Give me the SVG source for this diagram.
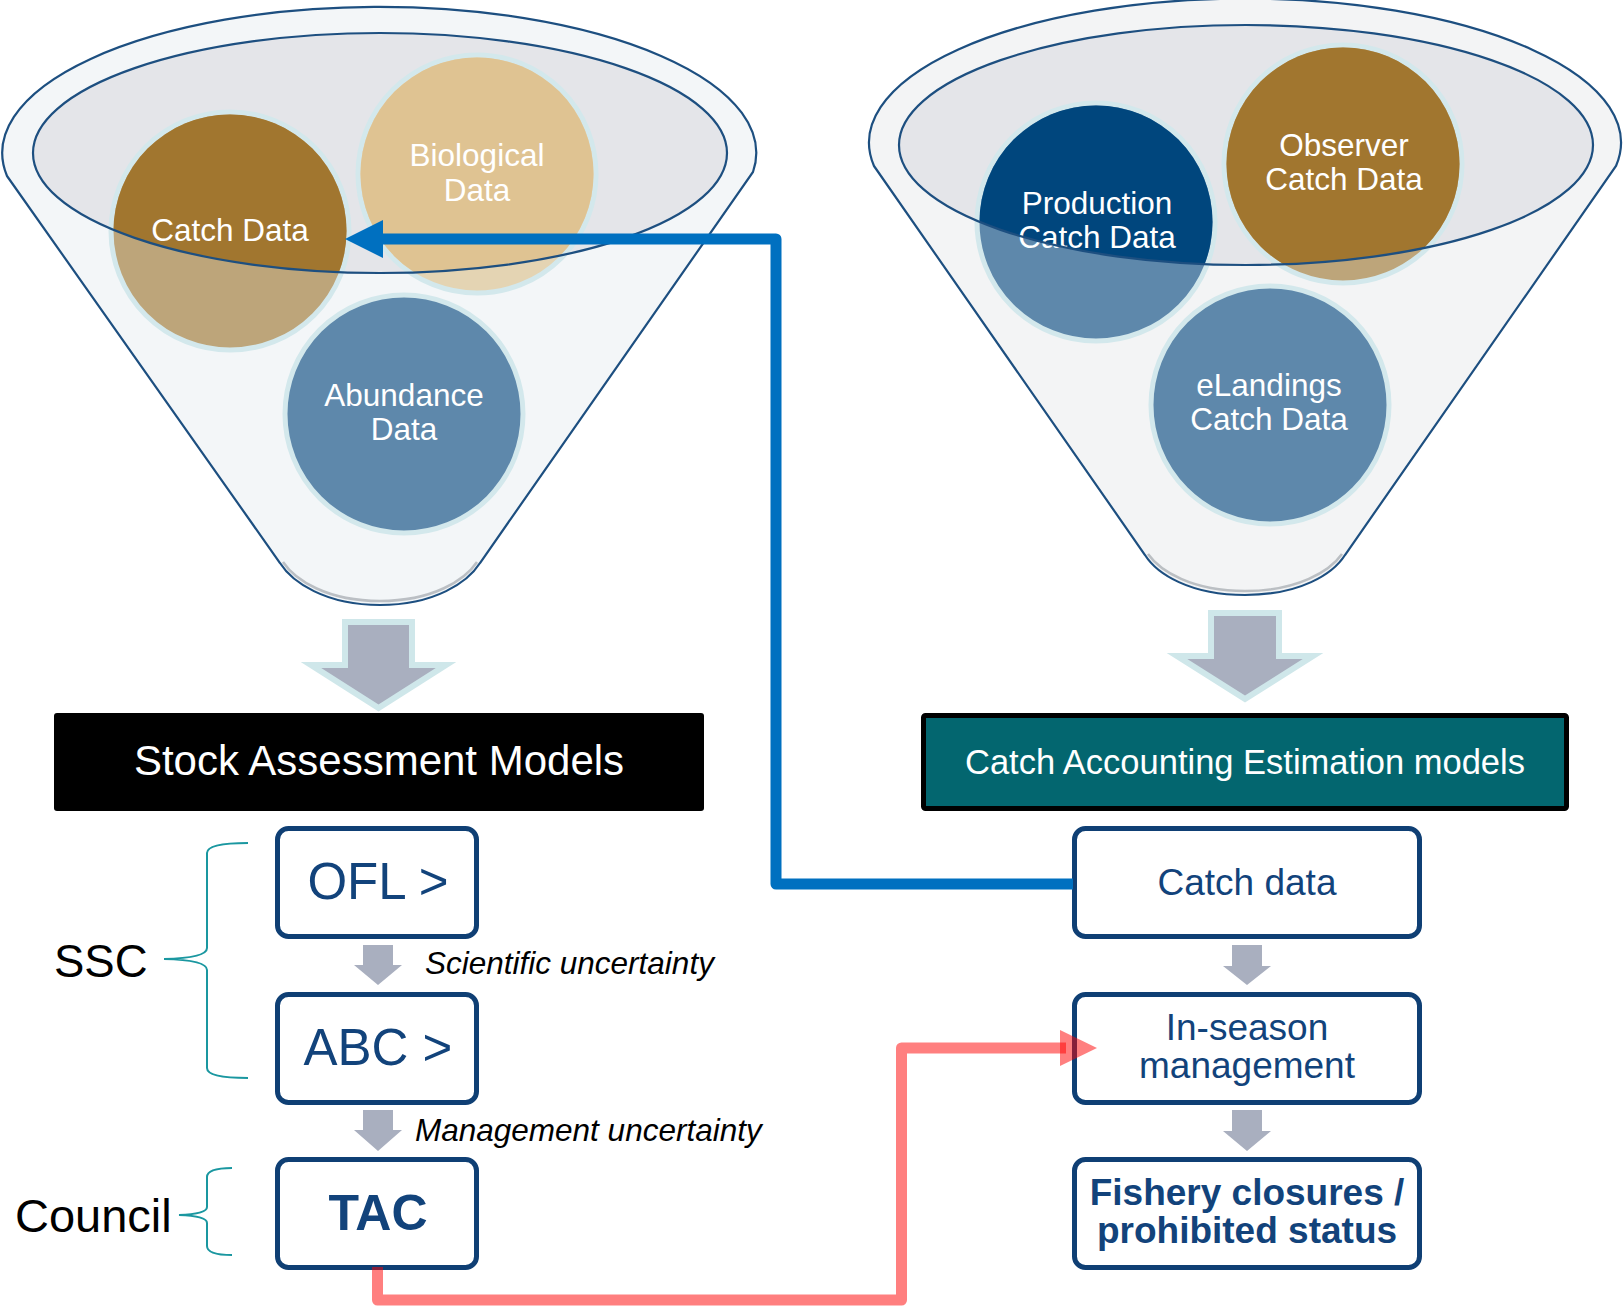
<svg xmlns="http://www.w3.org/2000/svg" width="1623" height="1307" viewBox="0 0 1623 1307">
<style>
.body{fill:#f3f6f8;stroke:none}
.bodyR{fill:#f3f4f5;stroke:none}
.inner{fill:#e4e5e9;stroke:none}
.outline{fill:none;stroke:#1d4f80;stroke-width:2.2}
.shadow{fill:none;stroke:#a3a8ae;stroke-width:2.5;opacity:.7}
.circ{stroke:#d3e8ec;stroke-width:5}
.ctext{font-family:'Liberation Sans',Arial,sans-serif;font-size:31.5px;fill:#ffffff;text-anchor:middle}
.box{fill:#ffffff;stroke:#0f3f74;stroke-width:5}
.btext{font-family:'Liberation Sans',Arial,sans-serif;fill:#12437b;text-anchor:middle}
.big{fill:#a9afbf;stroke:#cfe7ea;stroke-width:6;stroke-linejoin:miter}
.small{fill:#a9afbf}
.lbl{font-family:'Liberation Sans',Arial,sans-serif;fill:#000000}
.brace{fill:none;stroke:#1a97a0;stroke-width:2}
</style>
<defs>
<clipPath id="clipL"><ellipse cx="380" cy="153" rx="347" ry="120"/></clipPath>
<clipPath id="clipR"><ellipse cx="1246" cy="145" rx="347" ry="120"/></clipPath>
</defs>
<rect width="1623" height="1307" fill="#ffffff"/>

<!-- Left funnel -->
<g id="funnel-left">
<path class="body" d="M 7 176 L 280 563 C 292 582 325 605 380 605 C 435 605 468 582 480 563 L 753 172 A 377 146 0 1 0 7 176 Z"/>
<ellipse class="inner" cx="380" cy="153" rx="347" ry="120"/>
</g>
<g id="circle-catch-data">
<circle class="circ" cx="230" cy="231" r="119" fill="#bda57a"/>
<circle cx="230" cy="231" r="116.5" fill="#a1762f" clip-path="url(#clipL)"/>
<text class="ctext" x="230" y="241">Catch Data</text>
</g>
<g id="circle-biological-data">
<circle class="circ" cx="477" cy="174" r="119" fill="#e4d4b3"/>
<circle cx="477" cy="174" r="116.5" fill="#dfc392" clip-path="url(#clipL)"/>
<text class="ctext" x="477" y="166">Biological</text>
<text class="ctext" x="477" y="201">Data</text>
</g>
<g id="circle-abundance-data">
<circle class="circ" cx="404" cy="414" r="119" fill="#5e88ab"/>
<text class="ctext" x="404" y="406">Abundance</text>
<text class="ctext" x="404" y="440">Data</text>
</g>
<g id="funnel-left-outline">
<ellipse class="outline" cx="380" cy="153" rx="347" ry="120"/>
<path class="shadow" d="M 283 562 C 295 580 327 601 380 601 C 433 601 465 580 477 562"/>
<path class="outline" d="M 7 176 L 280 563 C 292 582 325 605 380 605 C 435 605 468 582 480 563 L 753 172 A 377 146 0 1 0 7 176 Z"/>
</g>

<!-- Right funnel -->
<g id="funnel-right">
<path class="bodyR" d="M 874 166 L 1145 555 C 1157 574 1190 595 1245 595 C 1300 595 1333 574 1345 555 L 1616 166 A 376 144 0 1 0 874 166 Z"/>
<ellipse class="inner" cx="1246" cy="145" rx="347" ry="120"/>
</g>
<g id="circle-production-catch-data">
<circle class="circ" cx="1096" cy="222" r="119" fill="#5e88ab"/>
<circle cx="1096" cy="222" r="116.5" fill="#00467d" clip-path="url(#clipR)"/>
<text class="ctext" x="1097" y="214">Production</text>
<text class="ctext" x="1097" y="248">Catch Data</text>
</g>
<g id="circle-observer-catch-data">
<circle class="circ" cx="1343" cy="164" r="119" fill="#bda57a"/>
<circle cx="1343" cy="164" r="116.5" fill="#a1762f" clip-path="url(#clipR)"/>
<text class="ctext" x="1344" y="156">Observer</text>
<text class="ctext" x="1344" y="190">Catch Data</text>
</g>
<g id="circle-elandings-catch-data">
<circle class="circ" cx="1270" cy="405" r="119" fill="#5e88ab"/>
<text class="ctext" x="1269" y="396">eLandings</text>
<text class="ctext" x="1269" y="430">Catch Data</text>
</g>
<g id="funnel-right-outline">
<ellipse class="outline" cx="1246" cy="145" rx="347" ry="120"/>
<path class="shadow" d="M 1148 554 C 1160 571 1192 591 1245 591 C 1298 591 1330 571 1342 554"/>
<path class="outline" d="M 874 166 L 1145 555 C 1157 574 1190 595 1245 595 C 1300 595 1333 574 1345 555 L 1616 166 A 376 144 0 1 0 874 166 Z"/>
</g>

<!-- Header boxes -->
<g id="stock-assessment-models">
<rect x="54" y="713" width="650" height="98" rx="3" fill="#000000"/>
<text x="379" y="775" font-family="'Liberation Sans',Arial,sans-serif" font-size="42" fill="#ffffff" text-anchor="middle">Stock Assessment Models</text>
</g>
<g id="catch-accounting-estimation-models">
<rect x="923.5" y="715.5" width="643" height="93" rx="2" fill="#03666f" stroke="#000000" stroke-width="5"/>
<text x="1245" y="774" font-family="'Liberation Sans',Arial,sans-serif" font-size="34.5" fill="#ffffff" text-anchor="middle">Catch Accounting Estimation models</text>
</g>

<!-- Left chain -->
<g id="ofl">
<rect class="box" x="277.5" y="828.5" width="199" height="108" rx="11"/>
<text class="btext" x="378" y="899" font-size="51">OFL &gt;</text>
</g>
<g id="abc">
<rect class="box" x="277.5" y="994.5" width="199" height="108" rx="11"/>
<text class="btext" x="378" y="1065" font-size="51">ABC &gt;</text>
</g>
<g id="tac">
<rect class="box" x="277.5" y="1159.5" width="199" height="108" rx="11"/>
<text class="btext" x="378" y="1230" font-size="50" font-weight="bold">TAC</text>
</g>

<!-- Right chain -->
<g id="catch-data">
<rect class="box" x="1074.5" y="828.5" width="345" height="108" rx="11"/>
<text class="btext" x="1247" y="895" font-size="37">Catch data</text>
</g>
<g id="in-season-management">
<rect class="box" x="1074.5" y="994.5" width="345" height="108" rx="11"/>
<text class="btext" x="1247" y="1040" font-size="37">In-season</text>
<text class="btext" x="1247" y="1078" font-size="37">management</text>
</g>
<g id="fishery-closures">
<rect class="box" x="1074.5" y="1159.5" width="345" height="108" rx="11"/>
<text class="btext" x="1247" y="1205" font-size="37" font-weight="bold">Fishery closures /</text>
<text class="btext" x="1247" y="1243" font-size="37" font-weight="bold">prohibited status</text>
</g>

<!-- Labels -->
<g id="label-ssc">
<text class="lbl" x="54" y="977" font-size="45.5">SSC</text>
<path class="brace" d="M 248 843 Q 207 843 207 853 V 948 Q 207 958 164 959 Q 207 960 207 970 V 1068 Q 207 1078 248 1078"/>
</g>
<g id="label-council">
<text class="lbl" x="15" y="1232" font-size="47">Council</text>
<path class="brace" d="M 232 1168 Q 207 1168 207 1177 V 1207 Q 207 1214 179 1215 Q 207 1216 207 1223 V 1246 Q 207 1255 232 1255"/>
</g>
<g id="label-scientific-uncertainty">
<text class="lbl" x="425" y="974" font-size="31.5" font-style="italic">Scientific uncertainty</text>
</g>
<g id="label-management-uncertainty">
<text class="lbl" x="415" y="1141" font-size="31.5" font-style="italic">Management uncertainty</text>
</g>

<!-- Connectors -->
<g id="connectors">
<polygon class="big" points="345,622 412,622 412,665 446,665 378.5,708 311,665 345,665"/>
<polygon class="big" points="1211,613 1279,613 1279,656 1313,656 1245,699 1177,656 1211,656"/>
<polygon class="small" points="363,945 393,945 393,965 402,965 378,985 354,965 363,965"/>
<polygon class="small" points="363,1110 393,1110 393,1130 402,1130 378,1151 354,1130 363,1130"/>
<polygon class="small" points="1232,945 1262,945 1262,966 1271,966 1247,985 1223,966 1232,966"/>
<polygon class="small" points="1232,1110 1262,1110 1262,1131 1271,1131 1247,1151 1223,1131 1232,1131"/>
<path d="M 1073 884 H 776 V 239 H 381" fill="none" stroke="#0070c0" stroke-width="11" stroke-linejoin="round"/>
<polygon points="345,239 383,220 383,258" fill="#0070c0"/>
<path d="M 377.5 1267 V 1300 H 901.5 V 1048 H 1066" fill="none" stroke="#ff0000" stroke-opacity="0.5" stroke-width="11" stroke-linejoin="round"/>
<polygon points="1060,1030 1097,1048 1060,1066" fill="#ff0000" fill-opacity="0.5"/>
</g>
</svg>
